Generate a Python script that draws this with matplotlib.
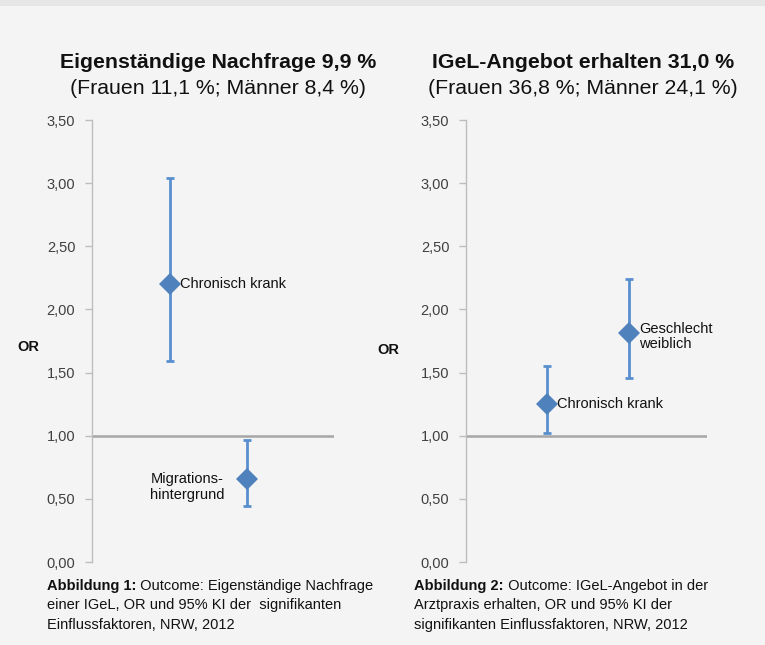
import matplotlib
matplotlib.use("Agg")
import matplotlib.pyplot as plt
from matplotlib.patches import Rectangle

plt.rcParams['font.family'] = ['Liberation Sans', 'DejaVu Sans']

# ---- data ----
titles = ["Eigenständige Nachfrage 9,9 %", "IGeL-Angebot erhalten 31,0 %"]
subtitles = ["(Frauen 11,1 %; Männer 8,4 %)", "(Frauen 36,8 %; Männer 24,1 %)"]

left_labels = ["Chronisch krank", "Migrations-\nhintergrund"]
left_or = [2.20, 0.66]
left_lo = [1.59, 0.44]
left_hi = [3.04, 0.97]

right_labels = ["Chronisch krank", "Geschlecht\nweiblich"]
right_or = [1.25, 1.81]
right_lo = [1.02, 1.46]
right_hi = [1.55, 2.24]

yticks = [0.0, 0.5, 1.0, 1.5, 2.0, 2.5, 3.0, 3.5]
ytick_labels = ["0,00", "0,50", "1,00", "1,50", "2,00", "2,50", "3,00", "3,50"]

captions_bold = ["Abbildung 1:", "Abbildung 2:"]
captions_rest = [
    " Outcome: Eigenständige Nachfrage\neiner IGeL, OR und 95% KI der  signifikanten\nEinflussfaktoren, NRW, 2012",
    " Outcome: IGeL-Angebot in der\nArztpraxis erhalten, OR und 95% KI der\nsignifikanten Einflussfaktoren, NRW, 2012",
]

BG = "#f4f4f4"
BLUE = "#4f81bd"
W, H = 765, 645

fig = plt.figure(figsize=(W / 100, H / 100), dpi=100, facecolor=BG)
# top band
fig.patches.append(Rectangle((0, 1 - 6 / H), 1, 6 / H, transform=fig.transFigure,
                             facecolor="#e6e6e6", edgecolor="none", zorder=0))


def px(x, y):
    return x / W, 1 - y / H


def make_panel(x0, x1, xlim, vals, lo, hi, labels, label_offsets, label_ha, title, subtitle,
               title_cx, or_x, or_y, cap_x, cap_bold, cap_rest):
    y_top, y_bot = 120, 562
    ax = fig.add_axes([x0 / W, 1 - y_bot / H, (x1 - x0) / W, (y_bot - y_top) / H])
    ax.set_facecolor(BG)
    ax.set_xlim(*xlim)
    ax.set_ylim(0, 3.5)
    for s in ["top", "right", "bottom"]:
        ax.spines[s].set_visible(False)
    ax.spines["left"].set_color("#bdbdbd")
    ax.spines["left"].set_linewidth(1.0)
    ax.set_xticks([])
    ax.set_yticks(yticks)
    ax.set_yticklabels(ytick_labels, fontsize=10.5, color="#404040")
    ax.tick_params(axis="y", length=5, width=1, color="#bdbdbd", pad=7)
    ax.axhline(1.0, color="#a6a6a6", lw=1.8, zorder=1)
    xs = list(range(1, len(vals) + 1))
    err = [[v - l for v, l in zip(vals, lo)], [h - v for v, h in zip(vals, hi)]]
    ax.errorbar(xs, vals, yerr=err, fmt="none", ecolor="#5a8fcf", elinewidth=2.0,
                capsize=2.6, capthick=2.0, zorder=2)
    ax.plot(xs, vals, "D", color=BLUE, markersize=11, markeredgewidth=0, zorder=3)
    for x, v, lab, off, ha in zip(xs, vals, labels, label_offsets, label_ha):
        ax.annotate(lab, (x, v), xytext=off, textcoords="offset points", ha=ha, va="center",
                    multialignment="left", fontsize=10.5, color="#111111", linespacing=1.1)
    fx, fy = px(title_cx, 63)
    fig.text(fx, fy, title, ha="center", va="center", fontsize=15.3, fontweight="bold", color="#111111")
    fx, fy = px(title_cx, 88)
    fig.text(fx, fy, subtitle, ha="center", va="center", fontsize=15.3, color="#111111")
    fx, fy = px(or_x, or_y)
    fig.text(fx, fy, "OR", ha="left", va="center", fontsize=10.5, fontweight="bold", color="#111111")
    # caption
    fx, fy = px(cap_x, 586)
    t = fig.text(fx, fy, cap_bold, ha="left", va="center", fontsize=10.5, fontweight="bold", color="#111111")
    fig.canvas.draw()
    bb = t.get_window_extent()
    lines = cap_rest.split("\n")
    fig.text(bb.x1 / W, fy, lines[0], ha="left", va="center", fontsize=10.5, color="#111111")
    for i, ln in enumerate(lines[1:], start=1):
        fx2, fy2 = px(cap_x, 586 + 19.5 * i)
        fig.text(fx2, fy2, ln, ha="left", va="center", fontsize=10.5, color="#111111")
    return ax


make_panel(92, 334, (-0.013, 3.13), left_or, left_lo, left_hi, left_labels,
           [(7, 0), (-16, -6)], ["left", "right"], titles[0], subtitles[0], 218,
           17, 347, 47, captions_bold[0], captions_rest[0])
make_panel(466, 707, (0.012, 2.95), right_or, right_lo, right_hi, right_labels,
           [(7, 0), (7, -2)], ["left", "left"], titles[1], subtitles[1], 583,
           377, 350, 414, captions_bold[1], captions_rest[1])

fig.savefig("out.png", dpi=100, facecolor=BG)
